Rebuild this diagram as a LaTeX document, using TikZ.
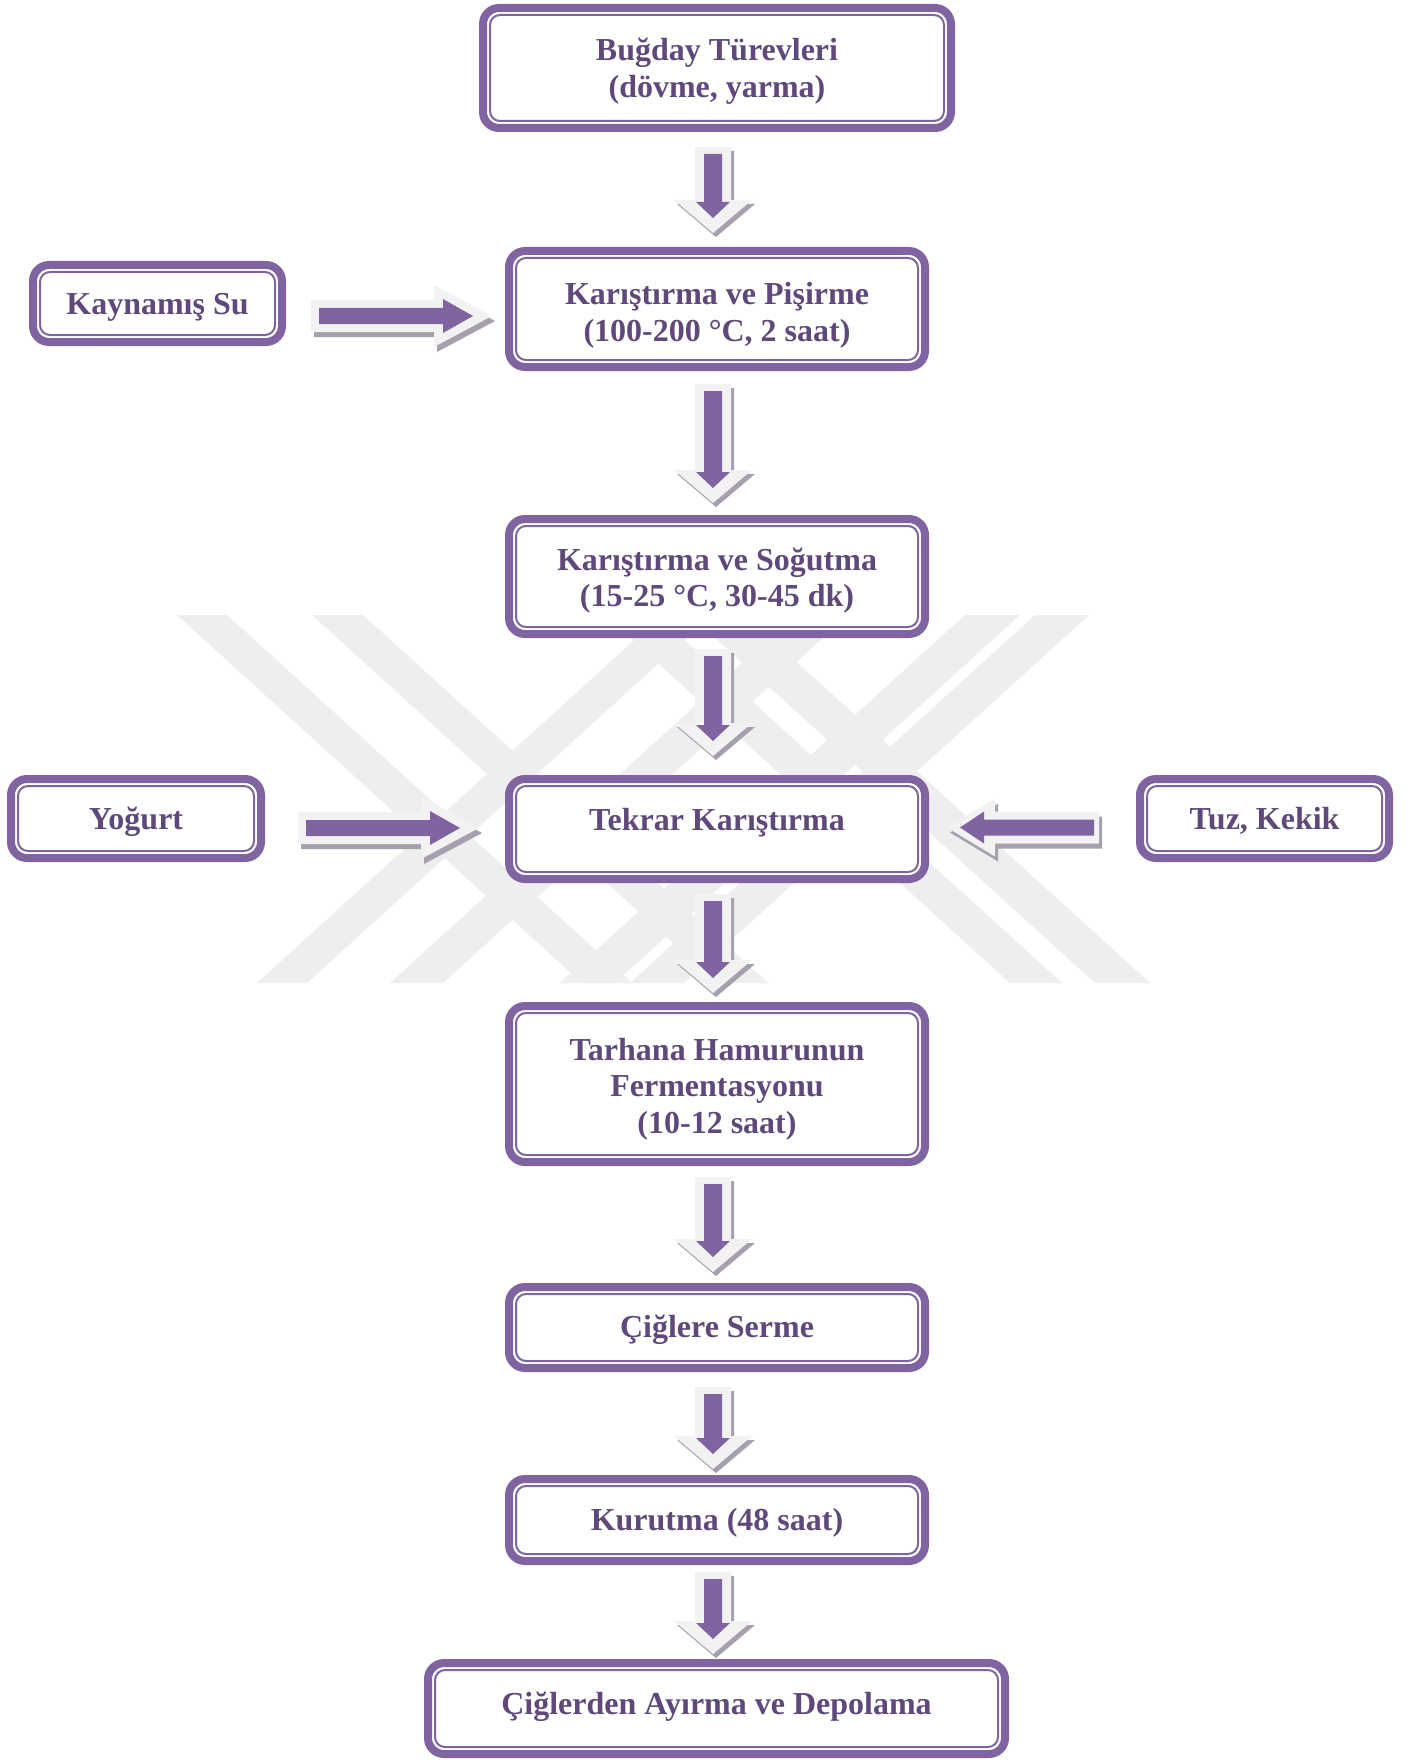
\documentclass[tikz,border=0pt]{standalone}
\usepackage{fontspec}
\setmainfont{Liberation Serif}
\usetikzlibrary{calc}
\definecolor{bpurple}{HTML}{8064A2}
\definecolor{tpurple}{HTML}{5F497A}
\definecolor{lgray}{HTML}{F2F2F2}
\definecolor{sgray}{HTML}{A59FAE}
\definecolor{wmark}{HTML}{EEEEEE}
\tikzset{
  pbox/.style={draw=bpurple, line width=8pt, rounded corners=16pt, fill=white,
    inner sep=0pt, text=tpurple,
    font=\fontsize{32}{36.5}\selectfont\bfseries,
    path picture={\draw[bpurple, line width=2pt, rounded corners=10pt]
      ([shift={(7pt,7pt)}]path picture bounding box.south west) rectangle
      ([shift={(-7pt,-7pt)}]path picture bounding box.north east);}},
  wband/.style={fill=wmark},
  arlight/.style={fill=lgray},
  arshadow/.style={fill=sgray},
  arpurple/.style={fill=bpurple}
}
% text block, moved vertically by #1 without changing its size
\newcommand\btext[2]{\raisebox{#1}[\height][\depth]{\begin{tabular}{@{}c@{}}#2\end{tabular}}}
% vertical block arrow: from, to, top gap, bottom gap
\newcommand\vArrow[4]{%
  \coordinate (vS) at ($(#1.south)+(-4pt,-#3)$);
  \coordinate (vT) at ($(#2.north)+(0,#4)$);
  \fill[arshadow] let \p1=(vS),\p2=(vT) in
    (\x1-15pt,\y1-4pt) -- (\x1+21pt,\y1-4pt) -- (\x1+21pt,\y2+29pt) -- (\x1+42pt,\y2+29pt)
    -- (\x1+3pt,\y2-4pt) -- (\x1-36pt,\y2+29pt) -- (\x1-15pt,\y2+29pt) -- cycle;
  \fill[arlight] let \p1=(vS),\p2=(vT) in
    (\x1-18pt,\y1) -- (\x1+18pt,\y1) -- (\x1+18pt,\y2+33pt) -- (\x1+39pt,\y2+33pt)
    -- (\x1,\y2) -- (\x1-39pt,\y2+33pt) -- (\x1-18pt,\y2+33pt) -- cycle;
  \fill[arpurple] let \p1=(vS),\p2=(vT) in
    (\x1-9pt,\y1-7pt) -- (\x1+9pt,\y1-7pt) -- (\x1+9pt,\y2+31pt) -- (\x1+17pt,\y2+31pt)
    -- (\x1,\y2+15pt) -- (\x1-17pt,\y2+31pt) -- (\x1-9pt,\y2+31pt) -- cycle;
}
% right-pointing block arrow: from, to, start gap, end gap, y offset
\newcommand\rArrow[5]{%
  \coordinate (hS) at ($(#1.east|-#2.west)+(#3,#5)$);
  \coordinate (hT) at ($(#2.west)+(-#4,#5)$);
  \fill[arshadow] let \p1=(hS),\p2=(hT) in
    (\x1+3pt,\y1+11pt) -- (\x2-55pt,\y1+11pt) -- (\x2-55pt,\y1+26pt) -- (\x2+3pt,\y1-5pt)
    -- (\x2-55pt,\y1-36pt) -- (\x2-55pt,\y1-21pt) -- (\x1+3pt,\y1-21pt) -- cycle;
  \fill[arlight] let \p1=(hS),\p2=(hT) in
    (\x1,\y1+16pt) -- (\x2-58pt,\y1+16pt) -- (\x2-58pt,\y1+31pt) -- (\x2,\y1)
    -- (\x2-58pt,\y1-31pt) -- (\x2-58pt,\y1-16pt) -- (\x1,\y1-16pt) -- cycle;
  \fill[arpurple] let \p1=(hS),\p2=(hT) in
    (\x1+8pt,\y1+8pt) -- (\x2-49pt,\y1+8pt) -- (\x2-49pt,\y1+17pt) -- (\x2-19pt,\y1)
    -- (\x2-49pt,\y1-17pt) -- (\x2-49pt,\y1-8pt) -- (\x1+8pt,\y1-8pt) -- cycle;
}
% left-pointing block arrow: from, to, start gap, end gap, y offset
\newcommand\lArrow[5]{%
  \coordinate (hS) at ($(#1.west|-#2.east)+(-#3,#5)$);
  \coordinate (hT) at ($(#2.east)+(#4,#5)$);
  \fill[arshadow] let \p1=(hS),\p2=(hT) in
    (\x1+3pt,\y1+11pt) -- (\x2+51pt,\y1+11pt) -- (\x2+51pt,\y1+24pt) -- (\x2+3pt,\y1-5pt)
    -- (\x2+51pt,\y1-34pt) -- (\x2+51pt,\y1-21pt) -- (\x1+3pt,\y1-21pt) -- cycle;
  \fill[arlight] let \p1=(hS),\p2=(hT) in
    (\x1,\y1+16pt) -- (\x2+48pt,\y1+16pt) -- (\x2+48pt,\y1+29pt) -- (\x2,\y1)
    -- (\x2+48pt,\y1-29pt) -- (\x2+48pt,\y1-16pt) -- (\x1,\y1-16pt) -- cycle;
  \fill[arpurple] let \p1=(hS),\p2=(hT) in
    (\x1-5pt,\y1+8pt) -- (\x2+37pt,\y1+8pt) -- (\x2+37pt,\y1+16pt) -- (\x2+13pt,\y1)
    -- (\x2+37pt,\y1-16pt) -- (\x2+37pt,\y1-8pt) -- (\x1-5pt,\y1-8pt) -- cycle;
}
\begin{document}
\begin{tikzpicture}[x=1pt,y=-1pt]
\useasboundingbox[fill=white] (0,0) rectangle (1411,1760);
% watermark
\fill[wband] (177,615) -- (227,615) -- (632,983) -- (582,983) -- cycle;
\fill[wband] (312,615) -- (363,615) -- (768,983) -- (717,983) -- cycle;
\fill[wband] (257,983) -- (307,983) -- (712,615) -- (662,615) -- cycle;
\fill[wband] (390,983) -- (443,983) -- (848,615) -- (795,615) -- cycle;
\fill[wband] (965,615) -- (1020,615) -- (615,983) -- (560,983) -- cycle;
\fill[wband] (1035,615) -- (1089,615) -- (684,983) -- (630,983) -- cycle;
\fill[wband] (605,615) -- (657,615) -- (1062,983) -- (1010,983) -- cycle;
\fill[wband] (690,615) -- (745,615) -- (1150,983) -- (1095,983) -- cycle;
% boxes
\node[pbox, minimum width=468pt, minimum height=120pt] (b1) at (717,68) {\btext{-3.5pt}{Buğday Türevleri\\(dövme, yarma)}};
\node[pbox, minimum width=416pt, minimum height=116pt] (b2) at (717,309) {\btext{-6.5pt}{Karıştırma ve Pişirme\\(100-200 °C, 2 saat)}};
\node[pbox, minimum width=416pt, minimum height=115pt] (b3) at (717,576.5) {\btext{-4.5pt}{Karıştırma ve Soğutma\\(15-25 °C, 30-45 dk)}};
\node[pbox, minimum width=416pt, minimum height=100pt] (b4) at (717,829) {\btext{5.5pt}{Tekrar Karıştırma}};
\node[pbox, minimum width=416pt, minimum height=156pt] (b5) at (717,1084) {\btext{-5.5pt}{Tarhana Hamurunun\\Fermentasyonu\\(10-12 saat)}};
\node[pbox, minimum width=416pt, minimum height=81pt] (b6) at (717,1327.5) {\btext{-2.5pt}{Çiğlere Serme}};
\node[pbox, minimum width=416pt, minimum height=82pt] (b7) at (717,1520) {\btext{-3.5pt}{Kurutma (48 saat)}};
\node[pbox, minimum width=577pt, minimum height=91pt] (b8) at (716.5,1708.5) {\btext{1.5pt}{Çiğlerden Ayırma ve Depolama}};
\node[pbox, minimum width=249pt, minimum height=77pt] (ks) at (157.5,303.5) {\btext{-3.5pt}{Kaynamış Su}};
\node[pbox, minimum width=250pt, minimum height=79pt] (yo) at (136,818.5) {\btext{-3.5pt}{Yoğurt}};
\node[pbox, minimum width=249pt, minimum height=79pt] (tk) at (1264.5,818.5) {\btext{-3.5pt}{Tuz, Kekik}};
% arrows
\vArrow{b1}{b2}{15pt}{14pt}
\vArrow{b2}{b3}{13pt}{12pt}
\vArrow{b3}{b4}{11pt}{19pt}
\vArrow{b4}{b5}{11pt}{9pt}
\vArrow{b5}{b6}{11pt}{11pt}
\vArrow{b6}{b7}{15pt}{6pt}
\vArrow{b7}{b8}{7pt}{5pt}
\rArrow{ks}{b2}{25pt}{13pt}{-7pt}
\rArrow{yo}{b4}{33pt}{26pt}{1pt}
\lArrow{tk}{b4}{37pt}{18pt}{1.5pt}
\end{tikzpicture}
\end{document}
